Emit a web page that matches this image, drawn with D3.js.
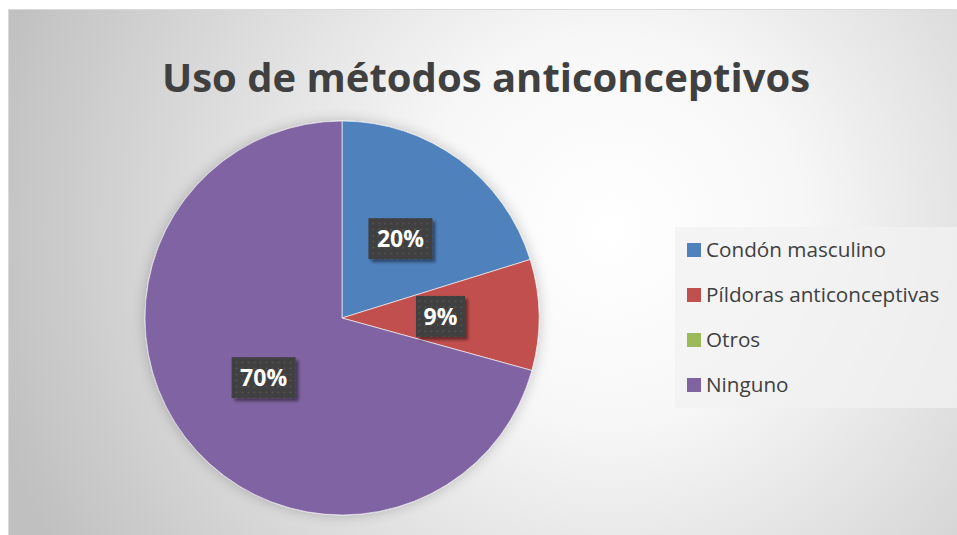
<!DOCTYPE html>
<html>
<head>
<meta charset="utf-8">
<script src="https://cdn.jsdelivr.net/npm/d3@7"></script>
<style>
  html, body { margin: 0; padding: 0; background: #fff; }
  svg { display: block; }
</style>
</head>
<body>
<svg id="chart" width="957" height="535"></svg>
<script>
'use strict';
// ── Data ────────────────────────────────────────────────────────────────
const categories = ['Condón masculino', 'Píldoras anticonceptivas', 'Otros', 'Ninguno'];
const values     = [20, 9, 0, 70];
const colors     = ['#4f81bd', '#c0504d', '#9bbb59', '#8064a2'];
const title      = 'Uso de métodos anticonceptivos';

const svg = d3.select('#chart');
const defs = svg.append('defs');

// ── Background gradient ─────────────────────────────────────────────────
const bg = defs.append('radialGradient').attr('id', 'bg')
  .attr('gradientUnits', 'userSpaceOnUse')
  .attr('cx', 610).attr('cy', 230).attr('r', 640);
bg.append('stop').attr('offset', 0).attr('stop-color', '#ffffff');
bg.append('stop').attr('offset', 0.3).attr('stop-color', '#f7f7f7');
bg.append('stop').attr('offset', 1).attr('stop-color', '#c0c0c0');

const shadow = defs.append('filter').attr('id', 'pieShadow')
  .attr('x', '-20%').attr('y', '-20%').attr('width', '140%').attr('height', '140%');
shadow.append('feGaussianBlur').attr('in', 'SourceAlpha').attr('stdDeviation', 7).attr('result', 'b');
shadow.append('feComponentTransfer').attr('in', 'b').attr('result', 's')
  .append('feFuncA').attr('type', 'linear').attr('slope', 0.22);
const m1 = shadow.append('feMerge');
m1.append('feMergeNode').attr('in', 's');
m1.append('feMergeNode').attr('in', 'SourceGraphic');

const boxShadow = defs.append('filter').attr('id', 'boxShadow')
  .attr('x', '-20%').attr('y', '-20%').attr('width', '150%').attr('height', '150%');
boxShadow.append('feGaussianBlur').attr('in', 'SourceAlpha').attr('stdDeviation', 1.5).attr('result', 'b');
boxShadow.append('feOffset').attr('in', 'b').attr('dx', 3).attr('dy', 3).attr('result', 'o');
boxShadow.append('feComponentTransfer').attr('in', 'o').attr('result', 's')
  .append('feFuncA').attr('type', 'linear').attr('slope', 0.45);
const m2 = boxShadow.append('feMerge');
m2.append('feMergeNode').attr('in', 's');
m2.append('feMergeNode').attr('in', 'SourceGraphic');

const dots = defs.append('pattern').attr('id', 'dots')
  .attr('patternUnits', 'userSpaceOnUse').attr('width', 6).attr('height', 6);
dots.append('rect').attr('width', 6).attr('height', 6).attr('fill', '#3f3f3f');
dots.append('rect').attr('x', 2).attr('y', 2).attr('width', 1.5).attr('height', 1.5).attr('fill', '#5c5c5c');

// ── Chart area ──────────────────────────────────────────────────────────
svg.append('rect')
  .attr('x', 8.5).attr('y', 9.5).attr('width', 960).attr('height', 540)
  .attr('fill', 'url(#bg)').attr('stroke', '#d9d9d9').attr('stroke-width', 1);

svg.append('text')
  .attr('x', 486).attr('y', 92)
  .attr('text-anchor', 'middle')
  .attr('font-family', 'Open Sans, sans-serif')
  .attr('font-weight', 700)
  .attr('font-size', 40)
  .attr('fill', '#404040')
  .text(title);

// ── Pie ─────────────────────────────────────────────────────────────────
const cx = 342, cy = 318, radius = 197;
const pie = d3.pie().sort(null).value(d => d.value);
const arcs = pie(categories.map((c, i) => ({ name: c, value: values[i], color: colors[i] })));
const arc = d3.arc().innerRadius(0).outerRadius(radius);
const labelArc = d3.arc().innerRadius(radius * 0.5).outerRadius(radius * 0.5);

const g = svg.append('g').attr('transform', `translate(${cx},${cy})`);
g.append('g').attr('filter', 'url(#pieShadow)')
  .selectAll('path')
  .data(arcs.filter(d => d.data.value > 0)).join('path')
  .attr('d', arc)
  .attr('fill', d => d.data.color)
  .attr('stroke', '#ffffff')
  .attr('stroke-opacity', 0.6)
  .attr('stroke-width', 1);

// ── Labels ──────────────────────────────────────────────────────────────
const lbl = g.append('g').selectAll('g')
  .data(arcs.filter(d => d.data.value > 0)).join('g')
  .attr('transform', d => `translate(${labelArc.centroid(d)})`);

lbl.each(function (d) {
  const el = d3.select(this);
  const t = d.data.value + '%';
  const w = t.length * 15 + 19, h = 41;
  el.append('rect')
    .attr('x', -w / 2).attr('y', -h / 2).attr('width', w).attr('height', h)
    .attr('fill', 'url(#dots)').attr('filter', 'url(#boxShadow)');
  el.append('text')
    .attr('text-anchor', 'middle').attr('dy', '0.36em')
    .attr('font-family', 'Open Sans, sans-serif')
    .attr('font-weight', 700).attr('font-size', 23)
    .attr('fill', '#ffffff')
    .text(t);
});

// ── Legend ──────────────────────────────────────────────────────────────
const legend = svg.append('g');
legend.append('rect')
  .attr('x', 675).attr('y', 227).attr('width', 285).attr('height', 181)
  .attr('fill', '#f2f2f2').attr('fill-opacity', 0.75);

const item = legend.selectAll('g.item')
  .data(categories).join('g')
  .attr('class', 'item')
  .attr('transform', (d, i) => `translate(687,${250 + i * 45})`);
item.append('rect')
  .attr('x', 0).attr('y', -7).attr('width', 14).attr('height', 14)
  .attr('fill', (d, i) => colors[i]);
item.append('text')
  .attr('x', 19).attr('dy', '0.35em')
  .attr('font-family', 'Open Sans, sans-serif')
  .attr('font-size', 20.7)
  .attr('fill', '#404040')
  .text(d => d);
</script>
</body>
</html>
